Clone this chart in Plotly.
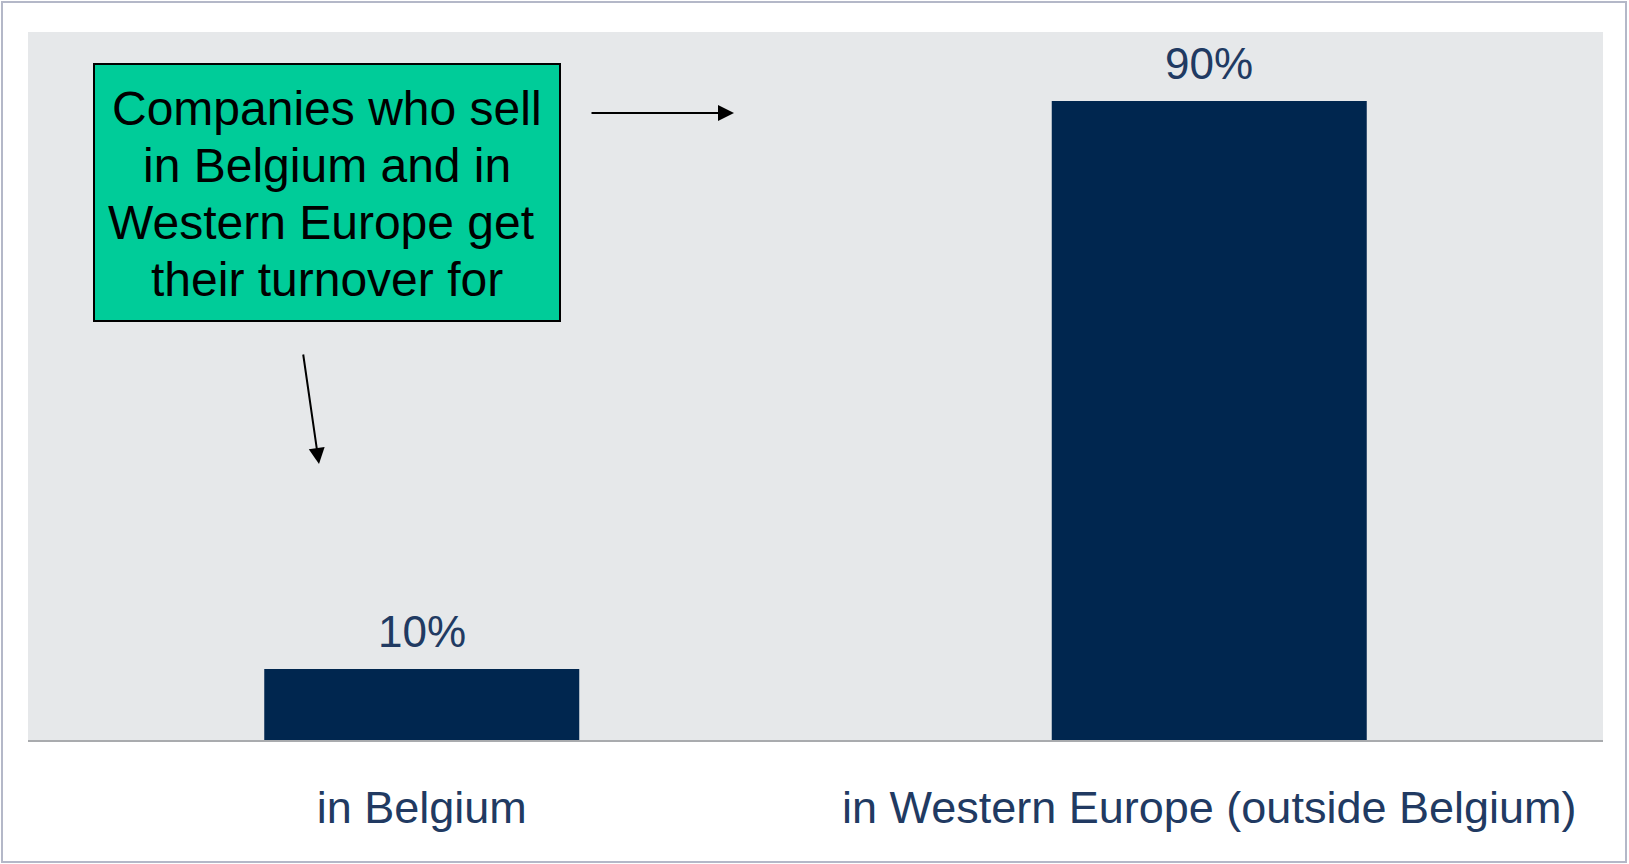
import plotly.graph_objects as go

# Share of turnover by sales region
categories = ["in Belgium", "in Western Europe (outside Belgium)"]
shares = [10, 90]
value_labels = ["10%", "90%"]
callout_lines = [
    "Companies who sell",
    "in Belgium and in",
    "Western Europe get ",
    "their turnover for",
]

W, H = 1629, 864
ML, MR, MT, MB = 28, 26, 32, 124
PW, PH = W - ML - MR, H - MT - MB

NAVY = "#00264f"
LABEL = "#213a62"
FONT = "Liberation Sans, Arial, sans-serif"


def px(x):
    return (x - ML) / PW


def py(y):
    return (H - MB - y) / PH


fig = go.Figure(
    go.Bar(
        x=categories,
        y=shares,
        marker=dict(color=NAVY, line=dict(width=0)),
        width=0.4,
        hoverinfo="skip",
    )
)

annotations = []
# value labels above the bars
for c, v, t in zip(categories, shares, value_labels):
    annotations.append(
        dict(x=c, y=v, xref="x", yref="y", text=t, showarrow=False,
             yanchor="bottom", yshift=11,
             font=dict(family=FONT, size=44, color=LABEL))
    )

# callout text, one line per annotation
for i, line in enumerate(callout_lines):
    annotations.append(
        dict(x=px(327), y=py(108 + 57.3 * i), xref="paper", yref="paper",
             text=line, showarrow=False, xanchor="center", yanchor="middle",
             font=dict(family=FONT, size=48, color="black"))
    )

# arrows from the callout toward each bar
annotations.append(
    dict(x=px(734), y=py(113), xref="paper", yref="paper", text="",
         showarrow=True, ax=-144, ay=0, arrowhead=2, arrowsize=1.6,
         arrowwidth=2, arrowcolor="black", standoff=0)
)
annotations.append(
    dict(x=px(319), y=py(464), xref="paper", yref="paper", text="",
         showarrow=True, ax=-16, ay=-111, arrowhead=2, arrowsize=1.6,
         arrowwidth=2, arrowcolor="black", standoff=0)
)

shapes = [
    # callout box
    dict(type="rect", xref="paper", yref="paper",
         x0=px(94), x1=px(560), y0=py(321), y1=py(64),
         fillcolor="#00cc99", line=dict(color="black", width=2), layer="above"),
    # outer frame
    dict(type="rect", xref="paper", yref="paper",
         x0=px(2), x1=px(1626), y0=py(862), y1=py(2),
         fillcolor="rgba(0,0,0,0)", line=dict(color="#b4b8c8", width=2)),
]

fig.update_layout(
    width=W, height=H,
    margin=dict(l=ML, r=MR, t=MT, b=MB),
    paper_bgcolor="white",
    plot_bgcolor="#e6e8ea",
    showlegend=False,
    bargap=0.6,
    annotations=annotations,
    shapes=shapes,
    xaxis=dict(
        showline=True, linecolor="#a9abae", linewidth=2,
        showgrid=False, zeroline=False, ticks="",
        ticklabelstandoff=27,
        tickfont=dict(family=FONT, size=45, color=LABEL),
        fixedrange=True,
    ),
    yaxis=dict(
        range=[0, 99.7], visible=False, showgrid=False, zeroline=False,
        fixedrange=True,
    ),
)

fig.write_html("out.html", config={"displayModeBar": False})
